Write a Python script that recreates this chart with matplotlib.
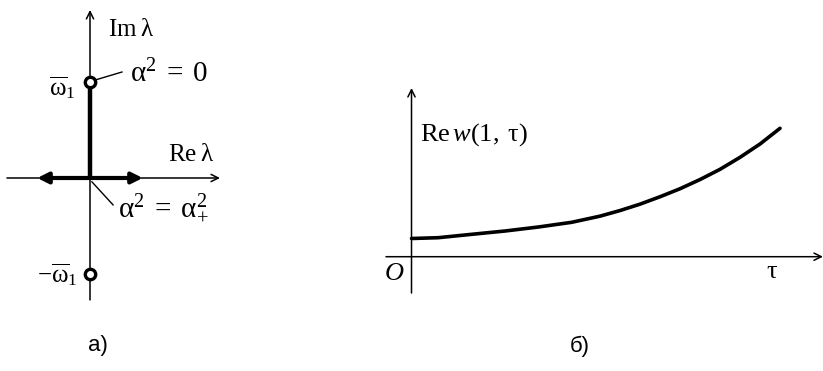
import numpy as np
import matplotlib
matplotlib.use("Agg")
import matplotlib.pyplot as plt

plt.rcParams['mathtext.fontset'] = 'custom'
plt.rcParams['mathtext.rm'] = 'Liberation Serif'
plt.rcParams['mathtext.it'] = 'Liberation Serif:italic'
plt.rcParams['mathtext.default'] = 'rm'
plt.rcParams['font.family'] = ['Liberation Serif', 'DejaVu Serif']

# (a) eigenvalue locus: endpoints of the branches, in units of omega_1
omega_1 = 1.0
branch_re = [-0.55, 0.55]      # where the real-axis branches stop
roots_im = [omega_1, -omega_1]  # roots at alpha^2 = 0

# (b) Re w(1, tau)
tau = [0.0, 0.072, 0.163, 0.253, 0.343, 0.433, 0.509, 0.564, 0.618, 0.672,
       0.726, 0.78, 0.834, 0.888, 0.942, 0.996]
re_w = [0.182, 0.19, 0.224, 0.257, 0.297, 0.344, 0.405, 0.462, 0.526, 0.60,
        0.680, 0.772, 0.874, 0.994, 1.127, 1.284]

W, H = 823, 371
fig = plt.figure(figsize=(W / 100, H / 100), dpi=100)

thin = dict(arrowstyle='->', lw=1.1, color='black', mutation_scale=13,
            shrinkA=0, shrinkB=0)

# ---- panel a ----
ax1 = fig.add_axes([0, 61 / H, 240 / W, 310 / H])
ax1.set_xlim(-0.9375, 1.5625)
ax1.set_ylim(-1.375, 1.854)
ax1.axis('off')

ax1.annotate('', xy=(1.354, 0), xytext=(-0.865, 0), arrowprops=thin)
ax1.annotate('', xy=(0, 1.75), xytext=(0, -1.27), arrowprops=thin)

ax1.plot([0, 0], [0, roots_im[0]], color='black', lw=3.2, solid_capstyle='butt')
for x_end in branch_re:
    ax1.annotate('', xy=(x_end, 0), xytext=(0, 0),
                 arrowprops=dict(arrowstyle='-|>', lw=3.0, color='black',
                                 mutation_scale=16, shrinkA=0, shrinkB=0))
ax1.plot([0, 0], roots_im, 'o', ms=7.5, mfc='white', mec='black', mew=2.4,
         linestyle='none', zorder=5)

ax1.plot([0.052, 0.333], [1.02, 1.104], color='black', lw=1.0)
ax1.plot([0.02, 0.24], [-0.04, -0.28], color='black', lw=1.0)

ax1.text(0.19, 1.54, r'$\mathrm{Im}\;\lambda$', fontsize=18, va='center')
ax1.text(0.81, 0.24, r'$\mathrm{Re}\;\lambda$', fontsize=18, va='center')
ax1.text(0.417, 1.083, r'$\alpha^2\;=\;0$', fontsize=21, va='center')
ax1.text(0.29, -0.307, r'$\alpha^2\;=\;\alpha_{+}^2$', fontsize=21, va='center')
ax1.text(-0.156, 0.94, r'$\overline{\omega}_1$', fontsize=18, va='center', ha='right')
ax1.text(-0.135, -1.01, r'$-\overline{\omega}_1$', fontsize=18, va='center', ha='right')

# ---- panel b ----
ax2 = fig.add_axes([370 / W, 71 / H, 453 / W, 240 / H])
ax2.set_xlim(-0.1122, 1.1122)
ax2.set_ylim(-0.433, 1.967)
ax2.axis('off')

ax2.annotate('', xy=(1.112, 0), xytext=(-0.069, 0), arrowprops=thin)
ax2.annotate('', xy=(0, 1.687), xytext=(0, -0.363), arrowprops=thin)
ax2.plot(tau, re_w, color='black', lw=2.6, solid_capstyle='round',
         solid_joinstyle='round')

ax2.text(0.023, 1.222, r'$\mathrm{Re}\,\mathit{w}(1,\;\tau)$', fontsize=19, va='center')
ax2.text(-0.047, -0.173, r'$\mathit{O}$', fontsize=19, va='center', ha='center')
ax2.text(0.974, -0.148, r'$\tau$', fontsize=19, va='center', ha='center')

# panel captions
cap = dict(fontsize=16, va='center', ha='center',
           family=['Liberation Sans', 'DejaVu Sans'])
fig.text(98 / W, 1 - 346 / H, 'а)', **cap)
fig.text(580 / W, 1 - 346 / H, 'б)', **cap)

fig.savefig('out.png', dpi=100, facecolor='white')
